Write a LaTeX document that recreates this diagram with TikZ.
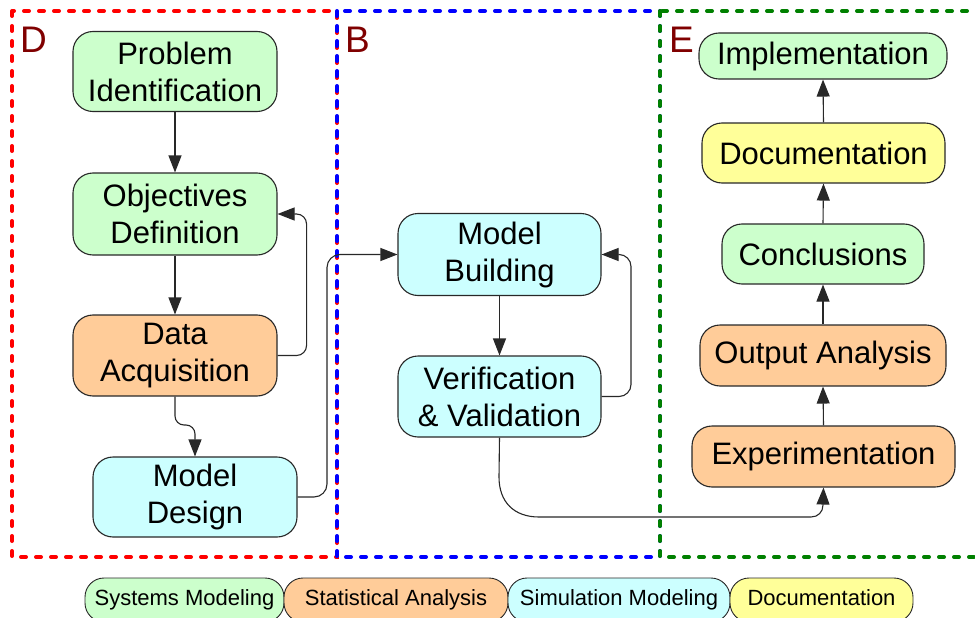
\documentclass[tikz,border=0pt]{standalone}
\usepackage{fontspec}
\setmainfont{Liberation Sans}
\usetikzlibrary{arrows.meta}
\definecolor{cSys}{RGB}{204,255,204}
\definecolor{cStat}{RGB}{255,204,153}
\definecolor{cSim}{RGB}{204,255,255}
\definecolor{cDoc}{RGB}{255,255,153}
\definecolor{cLab}{RGB}{128,0,0}
\definecolor{cGreen}{RGB}{0,128,0}
\definecolor{cBlue}{RGB}{0,0,255}
\definecolor{cRed}{RGB}{255,0,0}
\definecolor{cLine}{RGB}{40,40,40}
\begin{document}
\begin{tikzpicture}[x=1pt,y=1pt,
  proc/.style={draw=cLine, line width=1.1pt, rounded corners=20pt, align=center,
    font=\fontsize{31}{37}\selectfont, inner sep=0pt},
  pill/.style={draw=cLine, line width=0.9pt, rounded corners=19pt, minimum height=44pt,
    font=\fontsize{22}{26}\selectfont, inner sep=0pt, text height=16pt, text depth=5pt},
  region/.style={line width=4pt, dash pattern=on 5pt off 10pt, line cap=round},
  reglabel/.style={anchor=base west, font=\fontsize{37}{40}\selectfont, text=cLab, inner sep=0pt},
  conn/.style={draw=cLine, line width=1.1pt, -{Triangle[length=17pt,width=13pt]}},
]
\useasboundingbox (0,0) rectangle (975,-618);

% regions
\draw[region, cRed] (12,-11) rectangle (337,-557);
\draw[region, cBlue] (337,-11) rectangle (660,-557);
\draw[region, cGreen] (660,-11) rectangle (995,-557);
\node[reglabel] (labD) at (20,-53) {D};
\node[reglabel] (labB) at (345,-53) {B};
\node[reglabel] (labE) at (669,-53) {E};

% nodes column D
\node[proc, fill=cSys, minimum width=204pt, minimum height=80pt] (pi) at (175,-71.5) {Problem\\Identification};
\node[proc, fill=cSys, minimum width=204pt, minimum height=82pt] (od) at (175,-214) {Objectives\\Definition};
\node[proc, fill=cStat, minimum width=204pt, minimum height=81pt] (da) at (175,-355.5) {Data\\Acquisition};
\node[proc, fill=cSim, minimum width=204pt, minimum height=80pt] (md) at (195,-497) {Model\\Design};

% column B
\node[proc, fill=cSim, minimum width=203pt, minimum height=82pt] (mb) at (499.5,-254.5) {Model\\Building};
\node[proc, fill=cSim, minimum width=203pt, minimum height=81pt] (vv) at (499.5,-396.5) {Verification\\\& Validation};

% column E
\node[proc, fill=cSys, minimum width=248pt, minimum height=46pt] (im) at (823,-56) {Implementation};
\node[proc, fill=cDoc, minimum width=243pt, minimum height=60pt] (dc) at (823.5,-153) {Documentation};
\node[proc, fill=cSys, minimum width=202pt, minimum height=60pt] (cc) at (823,-254) {Conclusions};
\node[proc, fill=cStat, minimum width=246pt, minimum height=61pt] (oa) at (823,-355.5) {Output Analysis};
\node[proc, fill=cStat, minimum width=263pt, minimum height=61pt] (ex) at (823.5,-456.5) {Experimentation};

% connectors
\draw[conn] (pi.south) -- (od.north);
\draw[conn] (od.south) -- (da.north);
\draw[conn, rounded corners=10pt] (da.east) -- ++(29,0) |- (od.east);
\draw[conn, rounded corners=9pt] (da.south) -- (175,-425) -- (195,-425) -- (md.north);
\draw[conn, rounded corners=13pt] (md.east) -- (327,-497) |- (mb.west);
\draw[conn] (mb.south) -- (vv.north);
\draw[conn, rounded corners=12pt] (vv.east) -- (631,-396.5) |- (mb.east);
\draw[conn] (vv.south) -- (499,-477) .. controls (499,-502) and (514,-517) .. (539,-517)
  -- (811,-517) .. controls (818,-517) and (823,-512) .. (823,-505) -- (ex.south);
\draw[conn] (ex.north) -- (oa.south);
\draw[conn] (oa.north) -- (cc.south);
\draw[conn] (cc.north) -- (dc.south);
\draw[conn] (dc.north) -- (im.south);

% legend
\node[pill, fill=cSys, minimum width=199pt] (lsys) at (184.5,-600) {Systems Modeling};
\node[pill, fill=cStat, minimum width=224pt] (lstat) at (396,-600) {Statistical Analysis};
\node[pill, fill=cSim, minimum width=222pt] (lsim) at (619,-600) {Simulation Modeling};
\node[pill, fill=cDoc, minimum width=183pt] (ldoc) at (821.5,-600) {Documentation};
\end{tikzpicture}
\end{document}
